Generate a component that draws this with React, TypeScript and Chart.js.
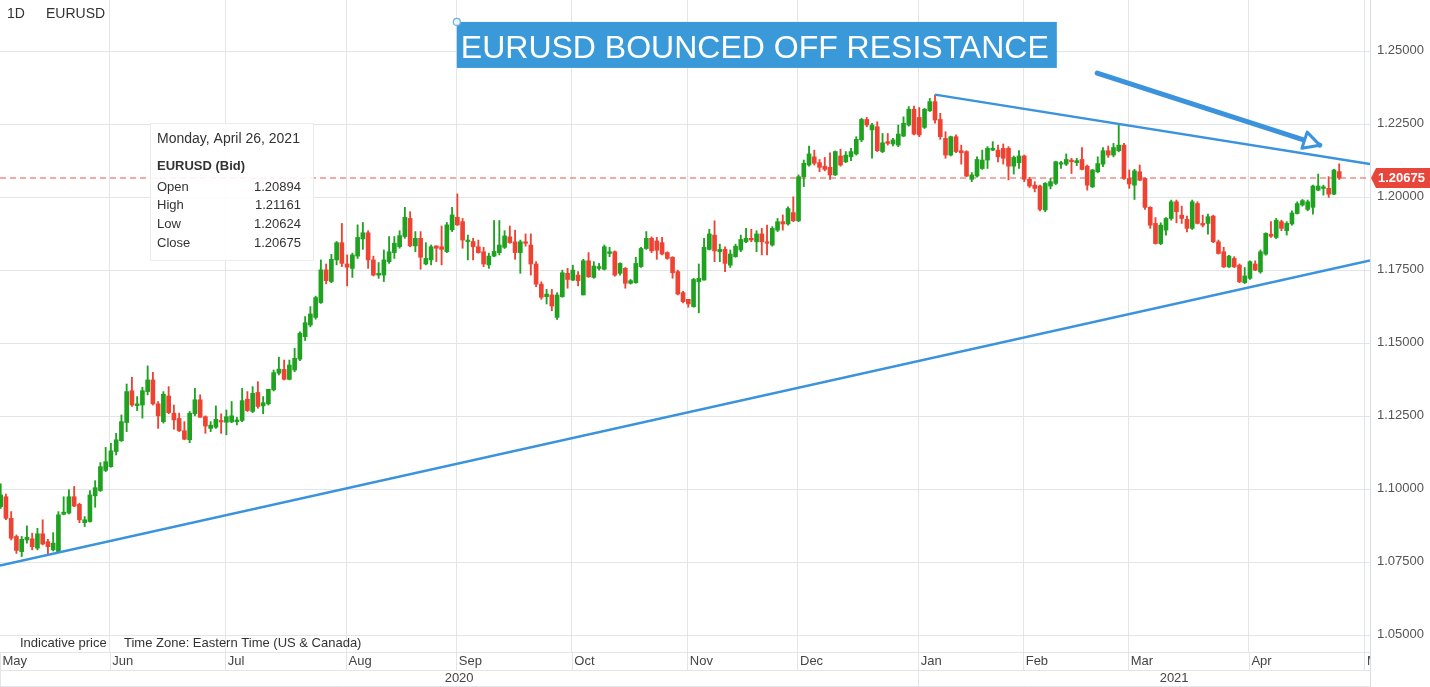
import React, { useEffect, useRef } from "react";
import { Chart, registerables } from "chart.js";

Chart.register(...registerables);

// ---- Daily EURUSD candles, May 1 2020 .. Apr 26 2021 (trading-day index) ----
const opens = [
  1.0942, 1.0976, 1.0902, 1.0840, 1.0788, 1.0828, 1.0832, 1.0800, 1.0849, 1.0822,
  1.0794, 1.0788, 1.0916, 1.0920, 1.0976, 1.0950, 1.0887, 1.0891, 1.0979, 1.0997,
  1.1066, 1.1079, 1.1131, 1.1168, 1.1230, 1.1339, 1.1288, 1.1290, 1.1336, 1.1376,
  1.1294, 1.1233, 1.1321, 1.1262, 1.1244, 1.1202, 1.1171, 1.1260, 1.1308, 1.1250,
  1.1210, 1.1214, 1.1237, 1.1231, 1.1232, 1.1233, 1.1237, 1.1310, 1.1268, 1.1333,
  1.1287, 1.1294, 1.1342, 1.1399, 1.1412, 1.1378, 1.1410, 1.1447, 1.1524, 1.1564,
  1.1590, 1.1641, 1.1753, 1.1713, 1.1787, 1.1846, 1.1773, 1.1758, 1.1800, 1.1859,
  1.1880, 1.1787, 1.1735, 1.1735, 1.1781, 1.1812, 1.1832, 1.1867, 1.1929, 1.1835,
  1.1861, 1.1773, 1.1787, 1.1835, 1.1832, 1.1815, 1.1890, 1.1933, 1.1918, 1.1850,
  1.1850, 1.1832, 1.1815, 1.1770, 1.1800, 1.1812, 1.1830, 1.1866, 1.1849, 1.1812,
  1.1849, 1.1838, 1.1773, 1.1704, 1.1661, 1.1667, 1.1590, 1.1661, 1.1741, 1.1718,
  1.1735, 1.1667, 1.1784, 1.1727, 1.1758, 1.1755, 1.1809, 1.1815, 1.1741, 1.1758,
  1.1707, 1.1709, 1.1764, 1.1826, 1.1861, 1.1852, 1.1846, 1.1812, 1.1796, 1.1747,
  1.1675, 1.1652, 1.1627, 1.1712, 1.1718, 1.1823, 1.1872, 1.1815, 1.1823, 1.1769,
  1.1798, 1.1821, 1.1849, 1.1861, 1.1849, 1.1876, 1.1849, 1.1838, 1.1889, 1.1918,
  1.1910, 1.1949, 1.1921, 1.2072, 1.2112, 1.2140, 1.2120, 1.2108, 1.2104, 1.2078,
  1.2143, 1.2123, 1.2140, 1.2150, 1.2198, 1.2268, 1.2232, 1.2243, 1.2158, 1.2192,
  1.2184, 1.2180, 1.2211, 1.2249, 1.2303, 1.2275, 1.2241, 1.2298, 1.2329, 1.2268,
  1.2203, 1.2146, 1.2209, 1.2161, 1.2158, 1.2063, 1.2074, 1.2100, 1.2129, 1.2163,
  1.2163, 1.2169, 1.2169, 1.2108, 1.2120, 1.2143, 1.2063, 1.2043, 1.2040, 1.1958,
  1.2040, 1.2049, 1.2115, 1.2115, 1.2129, 1.2120, 1.2131, 1.2108, 1.2037, 1.2089,
  1.2115, 1.2161, 1.2146, 1.2161, 1.2180, 1.2066, 1.2043, 1.2089, 1.2066, 1.1967,
  1.1912, 1.1843, 1.1889, 1.1929, 1.1986, 1.1940, 1.1926, 1.1895, 1.1980, 1.1912,
  1.1912, 1.1937, 1.1849, 1.1815, 1.1763, 1.1792, 1.1769, 1.1709, 1.1724, 1.1773,
  1.1746, 1.1807, 1.1875, 1.1864, 1.1918, 1.1887, 1.1910, 1.1946, 1.1975, 1.1960,
  1.1967, 1.2026, 1.2032, 1.2032, 1.2012, 1.20894,
];
const highs = [
  1.1020, 1.0985, 1.0925, 1.0845, 1.0840, 1.0876, 1.0851, 1.0868, 1.0897, 1.0830,
  1.0853, 1.0925, 1.0976, 1.1000, 1.1011, 1.0954, 1.0908, 1.0997, 1.1031, 1.1093,
  1.1145, 1.1159, 1.1193, 1.1256, 1.1362, 1.1385, 1.1319, 1.1351, 1.1424, 1.1402,
  1.1302, 1.1336, 1.1353, 1.1290, 1.1262, 1.1233, 1.1268, 1.1347, 1.1325, 1.1253,
  1.1233, 1.1287, 1.1260, 1.1273, 1.1302, 1.1248, 1.1347, 1.1336, 1.1353, 1.1370,
  1.1319, 1.1344, 1.1410, 1.1454, 1.1444, 1.1444, 1.1484, 1.1541, 1.1593, 1.1627,
  1.1663, 1.1787, 1.1773, 1.1806, 1.1850, 1.1912, 1.1804, 1.1810, 1.1907, 1.1915,
  1.1887, 1.1800, 1.1778, 1.1821, 1.1867, 1.1867, 1.1887, 1.1967, 1.1952, 1.1884,
  1.1884, 1.1846, 1.1838, 1.1835, 1.1903, 1.1915, 1.1967, 1.2013, 1.1929, 1.1872,
  1.1861, 1.1855, 1.1830, 1.1810, 1.1922, 1.1922, 1.1887, 1.1903, 1.1889, 1.1855,
  1.1876, 1.1876, 1.1781, 1.1712, 1.1686, 1.1686, 1.1675, 1.1752, 1.1758, 1.1769,
  1.1747, 1.1789, 1.1812, 1.1781, 1.1775, 1.1838, 1.1830, 1.1818, 1.1777, 1.1761,
  1.1720, 1.1796, 1.1830, 1.1884, 1.1866, 1.1864, 1.1864, 1.1815, 1.1798, 1.1752,
  1.1679, 1.1652, 1.1724, 1.1773, 1.1861, 1.1892, 1.1921, 1.1841, 1.1832, 1.1821,
  1.1841, 1.1872, 1.1895, 1.1892, 1.1887, 1.1895, 1.1906, 1.1901, 1.1929, 1.1941,
  1.1969, 1.2003, 1.2078, 1.2129, 1.2177, 1.2163, 1.2131, 1.2138, 1.2154, 1.2160,
  1.2166, 1.2158, 1.2169, 1.2209, 1.2272, 1.2275, 1.2255, 1.2260, 1.2220, 1.2220,
  1.2203, 1.2249, 1.2277, 1.2312, 1.2314, 1.2309, 1.2306, 1.2340, 1.2352, 1.2289,
  1.2226, 1.2211, 1.2215, 1.2180, 1.2161, 1.2086, 1.2140, 1.2163, 1.2175, 1.2192,
  1.2180, 1.2184, 1.2175, 1.2143, 1.2161, 1.2146, 1.2070, 1.2055, 1.2043, 1.2052,
  1.2066, 1.2125, 1.2125, 1.2150, 1.2135, 1.2135, 1.2172, 1.2112, 1.2097, 1.2140,
  1.2172, 1.2177, 1.2186, 1.2249, 1.2186, 1.2095, 1.2097, 1.2112, 1.2068, 1.1969,
  1.1932, 1.1914, 1.1932, 1.1992, 1.1992, 1.1971, 1.1937, 1.1992, 1.1986, 1.1940,
  1.1944, 1.1940, 1.1855, 1.1830, 1.1803, 1.1798, 1.1773, 1.1761, 1.1784, 1.1784,
  1.1821, 1.1880, 1.1918, 1.1929, 1.1923, 1.1918, 1.1955, 1.1986, 1.1994, 1.1992,
  1.2043, 1.2081, 1.2043, 1.2072, 1.2097, 1.21161,
];
const lows = [
  1.0936, 1.0897, 1.0828, 1.0782, 1.0771, 1.0817, 1.0794, 1.0794, 1.0811, 1.0780,
  1.0790, 1.0786, 1.0914, 1.0917, 1.0942, 1.0887, 1.0874, 1.0889, 1.0940, 1.0994,
  1.1062, 1.1077, 1.1119, 1.1165, 1.1199, 1.1285, 1.1271, 1.1245, 1.1325, 1.1290,
  1.1210, 1.1228, 1.1260, 1.1207, 1.1199, 1.1171, 1.1161, 1.1253, 1.1248, 1.1193,
  1.1199, 1.1210, 1.1193, 1.1188, 1.1230, 1.1222, 1.1233, 1.1268, 1.1264, 1.1279,
  1.1260, 1.1290, 1.1338, 1.1393, 1.1376, 1.1376, 1.1404, 1.1442, 1.1511, 1.1558,
  1.1584, 1.1638, 1.1705, 1.1709, 1.1770, 1.1764, 1.1698, 1.1727, 1.1792, 1.1823,
  1.1758, 1.1732, 1.1724, 1.1713, 1.1775, 1.1792, 1.1827, 1.1861, 1.1832, 1.1815,
  1.1755, 1.1770, 1.1770, 1.1781, 1.1770, 1.1812, 1.1884, 1.1905, 1.1827, 1.1787,
  1.1787, 1.1810, 1.1764, 1.1758, 1.1798, 1.1804, 1.1826, 1.1844, 1.1789, 1.1741,
  1.1834, 1.1735, 1.1695, 1.1652, 1.1636, 1.1613, 1.1583, 1.1659, 1.1690, 1.1716,
  1.1698, 1.1667, 1.1727, 1.1724, 1.1752, 1.1752, 1.1798, 1.1731, 1.1735, 1.1690,
  1.1704, 1.1707, 1.1761, 1.1823, 1.1812, 1.1789, 1.1804, 1.1789, 1.1724, 1.1667,
  1.1640, 1.1625, 1.1625, 1.1606, 1.1718, 1.1821, 1.1781, 1.1781, 1.1747, 1.1761,
  1.1796, 1.1815, 1.1846, 1.1849, 1.1815, 1.1804, 1.1804, 1.1834, 1.1884, 1.1889,
  1.1906, 1.1918, 1.1918, 1.2038, 1.2108, 1.2112, 1.2089, 1.2092, 1.2063, 1.2076,
  1.2108, 1.2120, 1.2127, 1.2146, 1.2192, 1.2243, 1.2135, 1.2158, 1.2154, 1.2180,
  1.2177, 1.2175, 1.2209, 1.2245, 1.2215, 1.2209, 1.2237, 1.2295, 1.2255, 1.2200,
  1.2135, 1.2143, 1.2154, 1.2115, 1.2072, 1.2055, 1.2070, 1.2097, 1.2100, 1.2161,
  1.2123, 1.2115, 1.2061, 1.2081, 1.2100, 1.2055, 1.2035, 1.2020, 1.1955, 1.1952,
  1.2030, 1.2045, 1.2100, 1.2110, 1.2083, 1.2110, 1.2095, 1.2026, 1.2035, 1.2085,
  1.2106, 1.2138, 1.2140, 1.2157, 1.2063, 1.2032, 1.1994, 1.2058, 1.1960, 1.1895,
  1.1841, 1.1839, 1.1872, 1.1923, 1.1914, 1.1912, 1.1883, 1.1891, 1.1910, 1.1900,
  1.1875, 1.1846, 1.1807, 1.1761, 1.1761, 1.1761, 1.1709, 1.1706, 1.1720, 1.1750,
  1.1741, 1.1803, 1.1864, 1.1860, 1.1887, 1.1872, 1.1906, 1.1944, 1.1971, 1.1955,
  1.1944, 1.2024, 1.2009, 1.2001, 1.2010, 1.20624,
];
const closes = [
  1.0982, 1.0902, 1.0834, 1.0792, 1.0830, 1.0837, 1.0805, 1.0849, 1.0814, 1.0805,
  1.0817, 1.0914, 1.0923, 1.0976, 1.0944, 1.0897, 1.0897, 1.0982, 1.1007, 1.1079,
  1.1096, 1.1133, 1.1171, 1.1233, 1.1336, 1.1290, 1.1294, 1.1339, 1.1376, 1.1294,
  1.1253, 1.1327, 1.1264, 1.1239, 1.1202, 1.1173, 1.1262, 1.1308, 1.1248, 1.1218,
  1.1221, 1.1241, 1.1232, 1.1250, 1.1253, 1.1239, 1.1305, 1.1271, 1.1330, 1.1285,
  1.1298, 1.1344, 1.1401, 1.1413, 1.1378, 1.1427, 1.1450, 1.1536, 1.1572, 1.1602,
  1.1658, 1.1753, 1.1716, 1.1789, 1.1846, 1.1775, 1.1762, 1.1804, 1.1864, 1.1880,
  1.1787, 1.1735, 1.1741, 1.1787, 1.1815, 1.1844, 1.1870, 1.1933, 1.1835, 1.1861,
  1.1796, 1.1792, 1.1832, 1.1827, 1.1823, 1.1907, 1.1941, 1.1907, 1.1855, 1.1855,
  1.1832, 1.1812, 1.1773, 1.1800, 1.1816, 1.1838, 1.1869, 1.1846, 1.1812, 1.1849,
  1.1844, 1.1773, 1.1704, 1.1659, 1.1670, 1.1629, 1.1667, 1.1743, 1.1720, 1.1752,
  1.1716, 1.1784, 1.1729, 1.1766, 1.1764, 1.1832, 1.1815, 1.1735, 1.1775, 1.1707,
  1.1716, 1.1775, 1.1826, 1.1861, 1.1818, 1.1820, 1.1807, 1.1792, 1.1743, 1.1670,
  1.1644, 1.1636, 1.1720, 1.1724, 1.1830, 1.1876, 1.1818, 1.1823, 1.1775, 1.1807,
  1.1834, 1.1857, 1.1861, 1.1855, 1.1876, 1.1849, 1.1844, 1.1895, 1.1918, 1.1910,
  1.1963, 1.1921, 1.2072, 1.2118, 1.2150, 1.2118, 1.2104, 1.2097, 1.2078, 1.2158,
  1.2112, 1.2146, 1.2158, 1.2200, 1.2268, 1.2249, 1.2249, 1.2161, 1.2188, 1.2186,
  1.2198, 1.2218, 1.2255, 1.2303, 1.2218, 1.2215, 1.2303, 1.2329, 1.2266, 1.2209,
  1.2146, 1.2209, 1.2158, 1.2154, 1.2074, 1.2078, 1.2131, 1.2129, 1.2169, 1.2169,
  1.2140, 1.2135, 1.2108, 1.2138, 1.2143, 1.2063, 1.2040, 1.2032, 1.1960, 1.2049,
  1.2055, 1.2123, 1.2120, 1.2131, 1.2123, 1.2127, 1.2097, 1.2043, 1.2095, 1.2117,
  1.2161, 1.2146, 1.2172, 1.2180, 1.2066, 1.2047, 1.2092, 1.2060, 1.1967, 1.1906,
  1.1843, 1.1906, 1.1929, 1.1986, 1.1952, 1.1929, 1.1895, 1.1986, 1.1912, 1.1906,
  1.1935, 1.1849, 1.1809, 1.1763, 1.1800, 1.1763, 1.1712, 1.1732, 1.1781, 1.1752,
  1.1815, 1.1878, 1.1868, 1.1923, 1.1895, 1.1912, 1.1948, 1.1980, 1.1990, 1.1986,
  1.2040, 1.2040, 1.2037, 1.2012, 1.2095, 1.20675,
];

// ---- Axis definitions ----
const monthStarts = [0, 21, 43, 66, 87, 109, 131, 152, 175, 195, 215, 238, 260];
const monthLabels = ["May", "Jun", "Jul", "Aug", "Sep", "Oct", "Nov", "Dec", "Jan", "Feb", "Mar", "Apr", "May"];
const yearStarts = [0, 175];
const yearLabels = ["2020", "2021"];
const yTicks = [1.05, 1.075, 1.1, 1.125, 1.15, 1.175, 1.2, 1.225, 1.25];
const X_MIN = -0.13;
const X_MAX = 260.87;
const Y_MIN = 1.04442;
const Y_MAX = 1.26771;

// ---- Drawings ----
const supportLine = [{ x: -0.13, y: 1.074 }, { x: 260.87, y: 1.1785 }];
const resistanceLine = [{ x: 178.0, y: 1.2353 }, { x: 260.87, y: 1.2115 }];
const arrowLine = [{ x: 208.9, y: 1.2427 }, { x: 251.3, y: 1.218 }];
const lastPrice = 1.20675;
const titleAnchor = { x: 86.9, y: 1.2602 };
const titleText = "EURUSD BOUNCED OFF RESISTANCE";
const tooltipDate = "Monday, April 26, 2021";
const tooltipTitle = "EURUSD (Bid)";
const tooltipNames = ["Open", "High", "Low", "Close"];
const tooltipValues = ["1.20894", "1.21161", "1.20624", "1.20675"];

const GREEN = "#1ea21f";
const RED = "#ee4333";
const BLUE = "#3a93dc";
const GRID = "#e3e6e9";
const FONT = '"Liberation Sans", Arial, sans-serif';

const decorPlugin = {
  id: "decor",
  afterDatasetsDraw(chart: any) {
    const { ctx, scales } = chart;
    const x = scales.x;
    const y = scales.y;
    // arrow head
    const sx = x.getPixelForValue(arrowLine[0].x);
    const sy = y.getPixelForValue(arrowLine[0].y);
    const tx = x.getPixelForValue(arrowLine[1].x);
    const ty = y.getPixelForValue(arrowLine[1].y);
    const len = Math.hypot(tx - sx, ty - sy);
    const dx = (tx - sx) / len;
    const dy = (ty - sy) / len;
    const hl = 16;
    const hw = 8.5;
    const bx = tx - dx * hl;
    const by = ty - dy * hl;
    ctx.save();
    ctx.beginPath();
    ctx.moveTo(tx, ty);
    ctx.lineTo(bx - dy * hw, by + dx * hw);
    ctx.lineTo(bx + dy * hw, by - dx * hw);
    ctx.closePath();
    ctx.fillStyle = "#ffffff";
    ctx.fill();
    ctx.lineWidth = 3;
    ctx.lineJoin = "round";
    ctx.strokeStyle = BLUE;
    ctx.stroke();
    ctx.restore();
  },
  afterDraw(chart: any) {
    const { ctx, chartArea, scales, width, height } = chart;
    const x = scales.x;
    const y = scales.y;
    const bottom = chartArea.bottom;
    const right = chartArea.right;
    const row1 = bottom + 18;
    ctx.save();

    // x-axis rows
    ctx.beginPath();
    ctx.rect(0, bottom, right, height - bottom);
    ctx.clip();
    ctx.strokeStyle = GRID;
    ctx.lineWidth = 1;
    ctx.beginPath();
    [bottom, row1, height - 1].forEach((yy) => {
      ctx.moveTo(0, Math.round(yy) + 0.5);
      ctx.lineTo(right, Math.round(yy) + 0.5);
    });
    monthStarts.forEach((m) => {
      const px = Math.round(x.getPixelForValue(m - 0.2)) + 0.5;
      ctx.moveTo(px, bottom);
      ctx.lineTo(px, row1);
    });
    yearStarts.forEach((m) => {
      const px = Math.round(x.getPixelForValue(m - 0.2)) + 0.5;
      ctx.moveTo(px, row1);
      ctx.lineTo(px, height);
    });
    ctx.stroke();
    ctx.fillStyle = "#444";
    ctx.font = `13px ${FONT}`;
    ctx.textBaseline = "middle";
    ctx.textAlign = "left";
    monthStarts.forEach((m, i) => {
      const px = Math.max(x.getPixelForValue(m - 0.2), 0) + 2.5;
      ctx.fillText(monthLabels[i], px, bottom + 9.5);
    });
    ctx.textAlign = "center";
    yearStarts.forEach((m, i) => {
      const a = Math.max(x.getPixelForValue(m - 0.2), 0);
      const b = i + 1 < yearStarts.length ? x.getPixelForValue(yearStarts[i + 1] - 0.2) : width;
      ctx.fillText(yearLabels[i], (a + b) / 2, row1 + 8.5);
    });
    ctx.restore();

    ctx.save();
    // right border
    ctx.strokeStyle = "#dadde0";
    ctx.lineWidth = 1;
    ctx.beginPath();
    ctx.moveTo(Math.round(right) + 0.5, 0);
    ctx.lineTo(Math.round(right) + 0.5, height);
    ctx.stroke();

    // footer notes
    ctx.fillStyle = "#333";
    ctx.font = `13px ${FONT}`;
    ctx.textBaseline = "middle";
    ctx.textAlign = "left";
    ctx.fillText("Indicative price", 20, bottom - 9);
    ctx.fillText("Time Zone: Eastern Time (US & Canada)", 124, bottom - 9);

    // header
    ctx.font = `14px ${FONT}`;
    ctx.fillText("1D", 7, 14);
    ctx.fillText("EURUSD", 46, 14);

    // last price tag
    const py = Math.round(y.getPixelForValue(lastPrice));
    ctx.fillStyle = "#e8453b";
    ctx.beginPath();
    ctx.moveTo(right + 1, py);
    ctx.lineTo(right + 6, py - 10);
    ctx.lineTo(width, py - 10);
    ctx.lineTo(width, py + 10);
    ctx.lineTo(right + 6, py + 10);
    ctx.closePath();
    ctx.fill();
    ctx.fillStyle = "#ffffff";
    ctx.font = `bold 13px ${FONT}`;
    ctx.fillText(lastPrice.toFixed(5), right + 8, py + 0.5);

    // title annotation
    const ax = x.getPixelForValue(titleAnchor.x);
    const ay = y.getPixelForValue(titleAnchor.y);
    ctx.fillStyle = "#3a9ad9";
    ctx.fillRect(ax, ay, 600, 46);
    ctx.fillStyle = "#ffffff";
    ctx.font = `32px ${FONT}`;
    ctx.textBaseline = "alphabetic";
    ctx.fillText(titleText, ax + 4, ay + 36);
    ctx.beginPath();
    ctx.arc(ax, ay, 3.5, 0, Math.PI * 2);
    ctx.fillStyle = "#e9f3fb";
    ctx.fill();
    ctx.strokeStyle = "#6fb1e4";
    ctx.lineWidth = 1.2;
    ctx.stroke();

    // hover tooltip panel
    const tx0 = 150;
    const ty0 = 123;
    ctx.fillStyle = "rgba(255,255,255,0.88)";
    ctx.fillRect(tx0, ty0, 163, 137);
    ctx.strokeStyle = "#ececec";
    ctx.lineWidth = 1;
    ctx.strokeRect(tx0 + 0.5, ty0 + 0.5, 163, 137);
    ctx.fillStyle = "#333";
    ctx.textBaseline = "middle";
    ctx.textAlign = "left";
    ctx.font = `14px ${FONT}`;
    ctx.fillText(tooltipDate, tx0 + 7, ty0 + 16);
    ctx.font = `bold 13px ${FONT}`;
    ctx.fillText(tooltipTitle, tx0 + 7, ty0 + 43);
    ctx.font = `13px ${FONT}`;
    tooltipNames.forEach((n, i) => {
      const yy = ty0 + 64 + i * 18.7;
      ctx.textAlign = "left";
      ctx.fillText(n, tx0 + 7, yy);
      ctx.textAlign = "right";
      ctx.fillText(tooltipValues[i], tx0 + 151, yy);
    });
    ctx.restore();
  },
};

export default function App() {
  const canvasRef = useRef<HTMLCanvasElement | null>(null);

  useEffect(() => {
    document.body.style.margin = "0";
    const canvas = canvasRef.current;
    if (!canvas) return;

    const colors = opens.map((o, i) => (closes[i] >= o ? GREEN : RED));
    const wickData = opens.map((_, i) => ({ x: i, y: [lows[i], highs[i]] }));
    const bodyData = opens.map((o, i) => ({ x: i, y: [o, closes[i]] }));

    const chart = new Chart(canvas, {
      type: "bar",
      data: {
        datasets: [
          {
            type: "line",
            data: supportLine,
            borderColor: BLUE,
            borderWidth: 2.5,
            pointRadius: 0,
            fill: false,
            order: 0,
          } as any,
          {
            type: "line",
            data: resistanceLine,
            borderColor: BLUE,
            borderWidth: 2.5,
            pointRadius: 0,
            fill: false,
            order: 0,
          } as any,
          {
            type: "line",
            data: arrowLine,
            borderColor: BLUE,
            borderWidth: 5,
            borderCapStyle: "round",
            pointRadius: 0,
            fill: false,
            order: 0,
          } as any,
          {
            type: "bar",
            data: bodyData,
            backgroundColor: colors,
            barThickness: 4,
            minBarLength: 1,
            grouped: false,
            order: 1,
          } as any,
          {
            type: "bar",
            data: wickData,
            backgroundColor: colors,
            barThickness: 1.2,
            grouped: false,
            order: 2,
          } as any,
          {
            type: "line",
            data: [
              { x: X_MIN, y: lastPrice },
              { x: X_MAX, y: lastPrice },
            ],
            borderColor: "#e8574c",
            borderWidth: 1,
            borderDash: [6, 4],
            pointRadius: 0,
            fill: false,
            order: 5,
          } as any,
        ],
      },
      options: {
        responsive: false,
        animation: false,
        devicePixelRatio: 1,
        layout: { padding: 0 },
        plugins: {
          legend: { display: false },
          tooltip: { enabled: false },
          title: { display: false },
        },
        events: [],
        scales: {
          x: {
            type: "linear",
            min: X_MIN,
            max: X_MAX,
            offset: false,
            position: "bottom",
            grid: { color: GRID, lineWidth: 1, drawTicks: false, offset: false },
            border: { display: false },
            ticks: { display: false },
            afterBuildTicks: (axis: any) => {
              axis.ticks = monthStarts
                .map((m) => m - 0.2)
                .filter((v) => v >= X_MIN && v <= X_MAX)
                .map((v) => ({ value: v }));
            },
            afterFit: (axis: any) => {
              axis.height = 35;
              axis.paddingLeft = 0;
              axis.paddingRight = 0;
            },
          },
          y: {
            type: "linear",
            position: "right",
            min: Y_MIN,
            max: Y_MAX,
            grid: { color: GRID, lineWidth: 1, drawTicks: false },
            border: { display: false },
            ticks: {
              color: "#555",
              font: { family: FONT, size: 13 },
              padding: 7,
              labelOffset: -1,
              callback: (v: any) => Number(v).toFixed(5),
            },
            afterBuildTicks: (axis: any) => {
              axis.ticks = yTicks.map((v) => ({ value: v }));
            },
            afterFit: (axis: any) => {
              axis.width = 60;
              axis.paddingTop = 0;
              axis.paddingBottom = 0;
            },
          },
        },
      } as any,
      plugins: [decorPlugin],
    });

    return () => {
      chart.destroy();
    };
  }, []);

  return (
    <div style={{ width: 1430, height: 687, background: "#ffffff" }}>
      <canvas ref={canvasRef} width={1430} height={687} style={{ display: "block" }} />
    </div>
  );
}
